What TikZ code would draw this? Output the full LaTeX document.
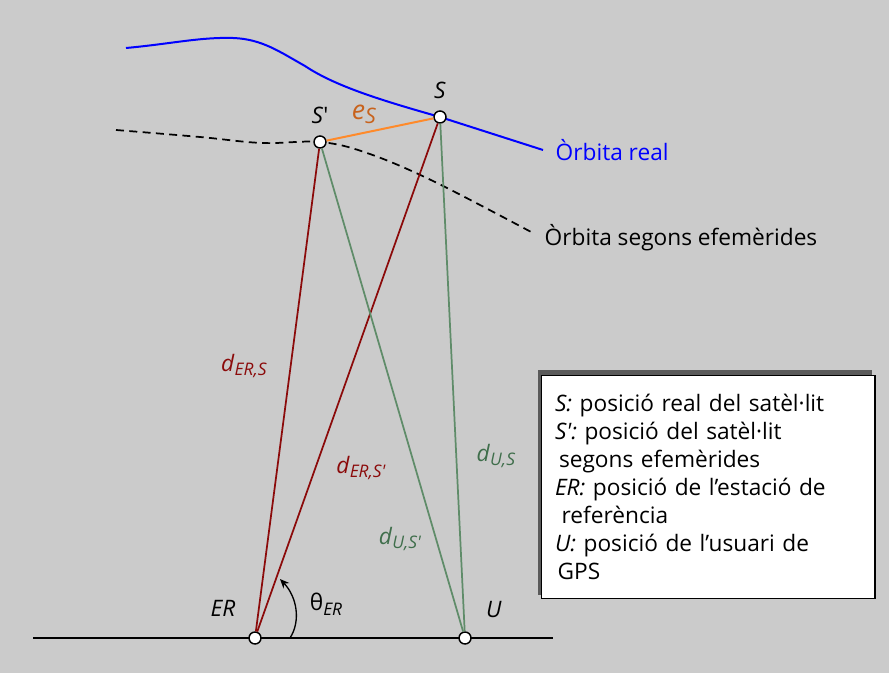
\documentclass[tikz,border=0pt]{standalone}
\usepackage{fontspec}
\setmainfont{Open Sans}
\usetikzlibrary{arrows.meta, positioning}

\definecolor{bggray}{HTML}{CBCBCB}
\definecolor{darkred}{HTML}{8B0A0A}
\definecolor{sage}{HTML}{5F8C69}
\definecolor{sagetext}{HTML}{3F6E4B}
\definecolor{orbitblue}{HTML}{0000FF}
\definecolor{errorange}{HTML}{FF8A2A}
\definecolor{errtext}{HTML}{C8621C}
\definecolor{shadowgray}{HTML}{5A5A5A}

\newcommand{\lowtext}[1]{\raisebox{-0.4ex}{\fontsize{13}{13}\selectfont\textit{#1}}}

\begin{document}
\begin{tikzpicture}[
    x=0.75pt, y=-0.75pt,
    font=\fontsize{17}{21}\selectfont,
    point/.style={
        draw,
        circle,
        fill=white,
        line width=1.1pt,
        inner sep=0pt,
        minimum size=9pt
    },
    erline/.style={draw=darkred, line width=1.3pt},
    uline/.style={draw=sage, line width=1.3pt},
    errline/.style={draw=errorange, line width=1.5pt},
    legend/.style={
        draw,
        fill=white,
        line width=1pt,
        align=left,
        anchor=north west,
        inner xsep=10pt,
        text width=230pt,
        minimum height=167pt
    }
]

\fill[bggray] (0,0) rectangle (889,673);
\useasboundingbox (0,0) rectangle (889,673);

\coordinate (satpos) at (440,117);
\coordinate (satppos) at (320,142);
\coordinate (gl) at (33,638);
\coordinate (gr) at (553,638);

% orbits
\draw[orbitblue, line width=1.5pt] (126,48) .. controls (170,44) and (200,37) .. (233,38)
    .. controls (262,39) and (280,52) .. (305,66)
    .. controls (335,86) and (380,100) .. (satpos) -- (543,150);
\draw[line width=1.3pt, dash pattern=on 6pt off 4pt] plot[smooth, tension=0.6] coordinates
    {(116,130) (200,137) (262,143) (320,142) (367,153) (433,181) (533,233)};
\draw[line width=1.1pt] (gl) -- (gr);

\node[point] (sat) at (satpos) {};
\node[point] (satp) at (satppos) {};
\node[point] (er) at (255,638) {};
\node[point] (usr) at (465,638) {};

\draw[erline] (er) -- (satp);
\draw[erline] (er) -- (sat);
\draw[uline] (usr) -- (satp);
\draw[uline] (usr) -- (sat);
\draw[errline] (satp) -- (sat);

% angle
\coordinate (th0) at (290,638);
\coordinate (th1) at (280,579);
\draw[line width=1pt, -{Stealth[length=7pt, width=6pt]}] (th0) .. controls (301,621) and (297,597) .. (th1);

% labels
\node[above=5pt of sat] (satlbl) {\textit{S}};
\node[above=5pt of satp] (satplbl) {\textit{S}\textquotesingle};
\node[errtext, font=\fontsize{20}{20}\selectfont] (eslbl) at (364,114) {\textit{e}\raisebox{-0.3ex}{\fontsize{16}{16}\selectfont\textit{S}}};
\node[orbitblue, anchor=west] (realbl) at (551,150) {Òrbita real};
\node[anchor=west] (efelbl) at (540,238) {Òrbita segons efemèrides};
\node[darkred] (dersl) at (244,366) {\textit{d}\lowtext{ER,S}};
\node[darkred] (derspl) at (361,468) {\textit{d}\lowtext{ER,S\textquotesingle}};
\node[sagetext] (dusl) at (496,456) {\textit{d}\lowtext{U,S}};
\node[sagetext] (duspl) at (400,539) {\textit{d}\lowtext{U,S\textquotesingle}};
\node (erlbl) at (223,608) {\textit{ER}};
\node (usrlbl) at (494,610) {\textit{U}};
\node (thlbl) at (326,604) {θ\lowtext{ER}};

% legend box
\fill[shadowgray] (538,370) rectangle (872,595);
\node[legend] (key) at (541,375) {%
\textit{S:} posició real del satèl·lit\\
\textit{S\textquotesingle:} posició del satèl·lit\\
\hspace*{3pt}segons efemèrides\\
\textit{ER:} posició de l’estació de\\
\hspace*{5pt}referència\\
\textit{U:} posició de l’usuari de\\
\hspace*{2pt}GPS};

\end{tikzpicture}
\end{document}
